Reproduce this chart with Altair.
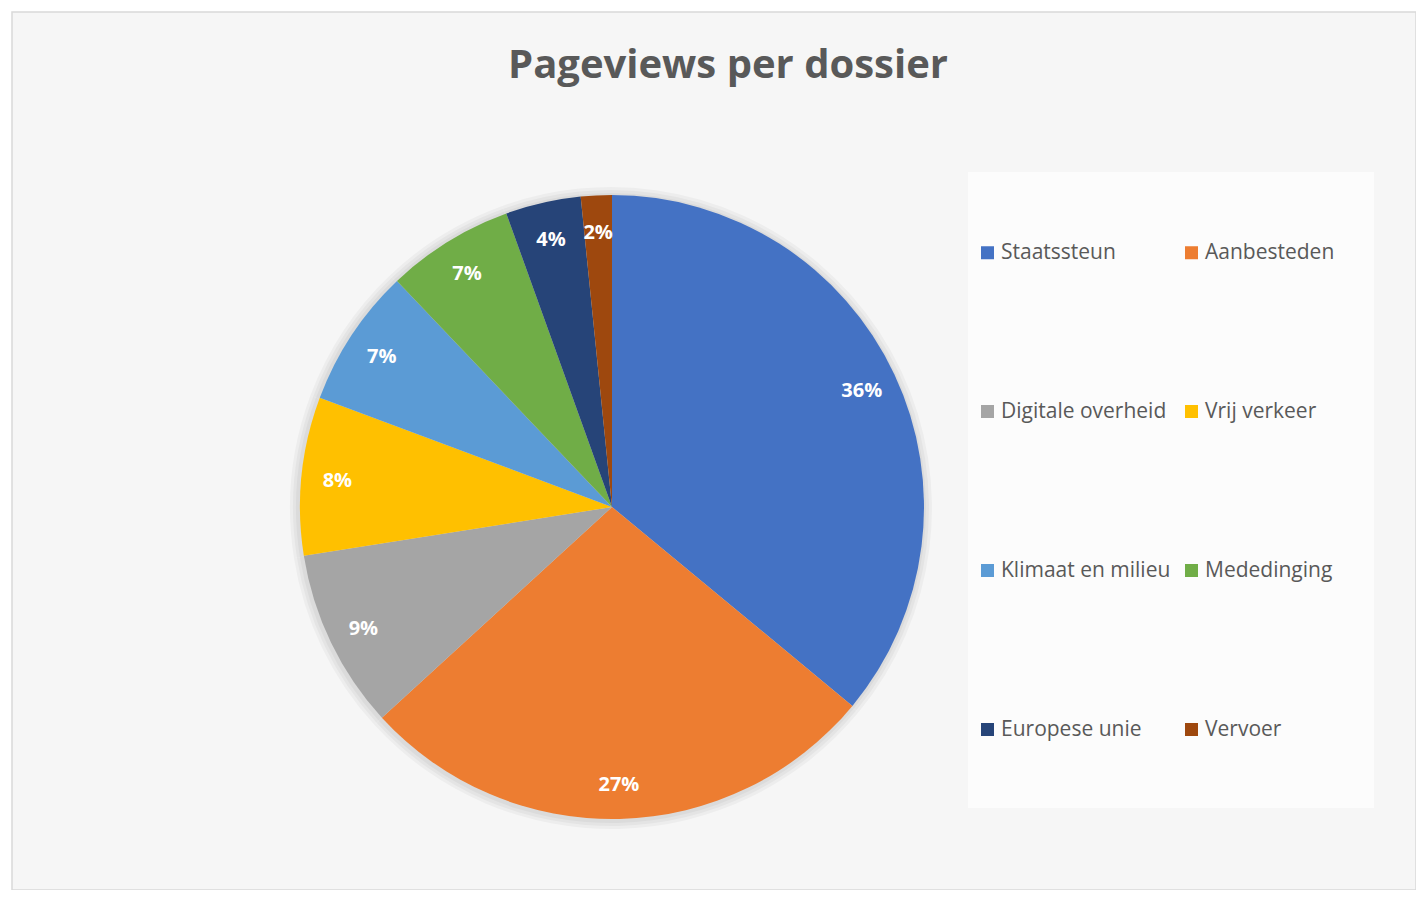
import altair as alt
import pandas as pd

categories = ["Staatssteun", "Aanbesteden", "Digitale overheid", "Vrij verkeer",
              "Klimaat en milieu", "Mededinging", "Europese unie", "Vervoer"]
values = [36.0, 27.2, 9.3, 8.2, 7.2, 6.6, 3.9, 1.6]
labels = ["36%", "27%", "9%", "8%", "7%", "7%", "4%", "2%"]
colors = ["#4472C4", "#ED7D31", "#A5A5A5", "#FFC000",
          "#5B9BD5", "#70AD47", "#264478", "#9E480E"]
title_text = "Pageviews per dossier"

FONT = "Open Sans"
CX, CY, R = 600, 495, 312

df = pd.DataFrame({"category": categories, "value": values,
                   "label": labels, "idx": list(range(len(categories)))})

base = alt.Chart(df)
theta = alt.Theta("value:Q", stack=True)
order = alt.Order("idx:Q", sort="ascending")

shadows = [
    base.mark_arc(outerRadius=R + d, color="#000000", opacity=0.035).encode(
        theta=theta, order=order, x=alt.value(CX - 1), y=alt.value(CY + 1))
    for d in (9, 6, 3)
]

pie = base.mark_arc(outerRadius=R).encode(
    theta=theta,
    order=order,
    color=alt.Color("category:N",
                    scale=alt.Scale(domain=categories, range=colors),
                    legend=alt.Legend(
                        title=None, orient="none", legendX=965, legendY=230,
                        direction="horizontal",
                        columns=2, symbolType="square", symbolSize=169,
                        symbolStrokeWidth=0, labelFontSize=21, labelFont=FONT,
                        labelColor="#595959", rowPadding=137, columnPadding=10,
                        labelLimit=300, labelOffset=3, padding=0)),
    x=alt.value(CX), y=alt.value(CY),
)

text = base.mark_text(radius=276, fontSize=20, fontWeight="bold",
                      color="white", font=FONT).encode(
    theta=theta, order=order, text="label:N",
    x=alt.value(CX), y=alt.value(CY + 2))

legend_box = alt.Chart(pd.DataFrame({"a": [0]})).mark_rect(color="#fcfcfc").encode(
    x=alt.value(956), x2=alt.value(1362), y=alt.value(160), y2=alt.value(796))

title = alt.Chart(pd.DataFrame({"t": [title_text]})).mark_text(
    font=FONT, fontSize=40, fontWeight="bold", color="#595959",
    align="center", baseline="alphabetic").encode(
    text="t:N", x=alt.value(716), y=alt.value(66))

chart = alt.layer(legend_box, *shadows, pie, text, title).properties(
    width=1404, height=878,
    padding={"left": 4, "top": 4, "right": 0, "bottom": 0},
    autosize=alt.AutoSizeParams(type="none"),
    background="white",
).configure_view(fill="#f6f6f6", stroke="#d9d9d9", strokeWidth=1.5)

chart.save("out.html", embed_options={"renderer": "svg", "actions": False})
